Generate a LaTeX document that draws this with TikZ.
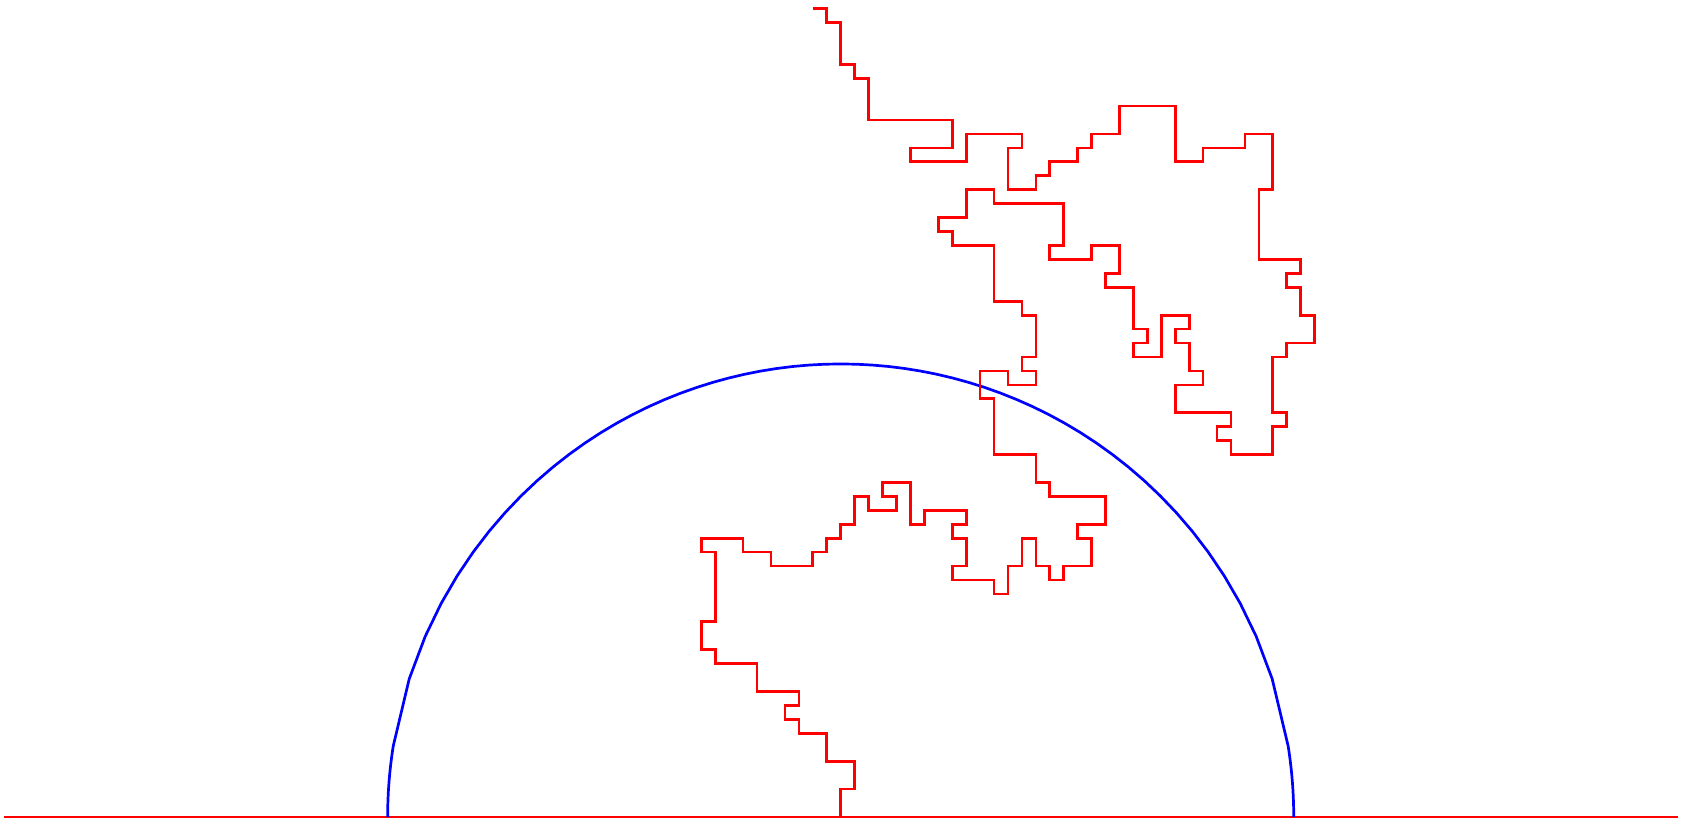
\documentclass[tikz,border=0pt]{standalone}
\begin{document}
\begin{tikzpicture}[x=0.2cm,y=0.2cm,
  walk/.style={red, line width=1.1pt, line join=miter},
  base/.style={red, line width=1.1pt},
  halfcircle/.style={blue, line width=1.1pt, line join=round}]
\useasboundingbox (-60.31,-0.143) rectangle (60.28,58.61);
% baseline
\coordinate (L) at (-60,0);
\coordinate (R) at (60.05,0);
\draw[base] (L) -- (R);
% semicircle (sampled polygon)
\draw[halfcircle] (-32.5,0) arc[start angle=180, end angle=171.02, radius=32.5]
  -- plot[domain=-32.1:32.1, samples=57] (\x, {sqrt(1056.25-\x*\x)})
  arc[start angle=8.98, end angle=0, radius=32.5];
% lattice walk
\draw[walk] (0,0) -- (0,2) -- (1,2) -- (1,4) -- (-1,4) -- (-1,6) -- (-3,6) -- (-3,7) -- (-4,7) -- (-4,8) -- (-3,8) -- (-3,9) -- (-6,9) -- (-6,11) -- (-9,11) -- (-9,12) -- (-10,12) -- (-10,14) -- (-9,14) -- (-9,19) -- (-10,19) -- (-10,20) -- (-7,20) -- (-7,19) -- (-5,19) -- (-5,18) -- (-2,18) -- (-2,19) -- (-1,19) -- (-1,20) -- (0,20) -- (0,21) -- (1,21) -- (1,23) -- (2,23) -- (2,22) -- (4,22) -- (4,23) -- (3,23) -- (3,24) -- (5,24) -- (5,21) -- (6,21) -- (6,22) -- (9,22) -- (9,21) -- (8,21) -- (8,20) -- (9,20) -- (9,18) -- (8,18) -- (8,17) -- (11,17) -- (11,16) -- (12,16) -- (12,18) -- (13,18) -- (13,20) -- (14,20) -- (14,18) -- (15,18) -- (15,17) -- (16,17) -- (16,18) -- (18,18) -- (18,20) -- (17,20) -- (17,21) -- (19,21) -- (19,23) -- (15,23) -- (15,24) -- (14,24) -- (14,26) -- (11,26) -- (11,30) -- (10,30) -- (10,32) -- (12,32) -- (12,31) -- (14,31) -- (14,32) -- (13,32) -- (13,33) -- (14,33) -- (14,36) -- (13,36) -- (13,37) -- (11,37) -- (11,41) -- (8,41) -- (8,42) -- (7,42) -- (7,43) -- (9,43) -- (9,45) -- (11,45) -- (11,44) -- (16,44) -- (16,41) -- (15,41) -- (15,40) -- (18,40) -- (18,41) -- (20,41) -- (20,39) -- (19,39) -- (19,38) -- (21,38) -- (21,35) -- (22,35) -- (22,34) -- (21,34) -- (21,33) -- (23,33) -- (23,36) -- (25,36) -- (25,35) -- (24,35) -- (24,34) -- (25,34) -- (25,32) -- (26,32) -- (26,31) -- (24,31) -- (24,29) -- (28,29) -- (28,28) -- (27,28) -- (27,27) -- (28,27) -- (28,26) -- (31,26) -- (31,28) -- (32,28) -- (32,29) -- (31,29) -- (31,33) -- (32,33) -- (32,34) -- (34,34) -- (34,36) -- (33,36) -- (33,38) -- (32,38) -- (32,39) -- (33,39) -- (33,40) -- (30,40) -- (30,45) -- (31,45) -- (31,49) -- (29,49) -- (29,48) -- (26,48) -- (26,47) -- (24,47) -- (24,51) -- (20,51) -- (20,49) -- (18,49) -- (18,48) -- (17,48) -- (17,47) -- (15,47) -- (15,46) -- (14,46) -- (14,45) -- (12,45) -- (12,48) -- (13,48) -- (13,49) -- (9,49) -- (9,47) -- (5,47) -- (5,48) -- (8,48) -- (8,50) -- (2,50) -- (2,53) -- (1,53) -- (1,54) -- (0,54) -- (0,57) -- (-1,57) -- (-1,58) -- (-2,58);
\end{tikzpicture}
\end{document}
